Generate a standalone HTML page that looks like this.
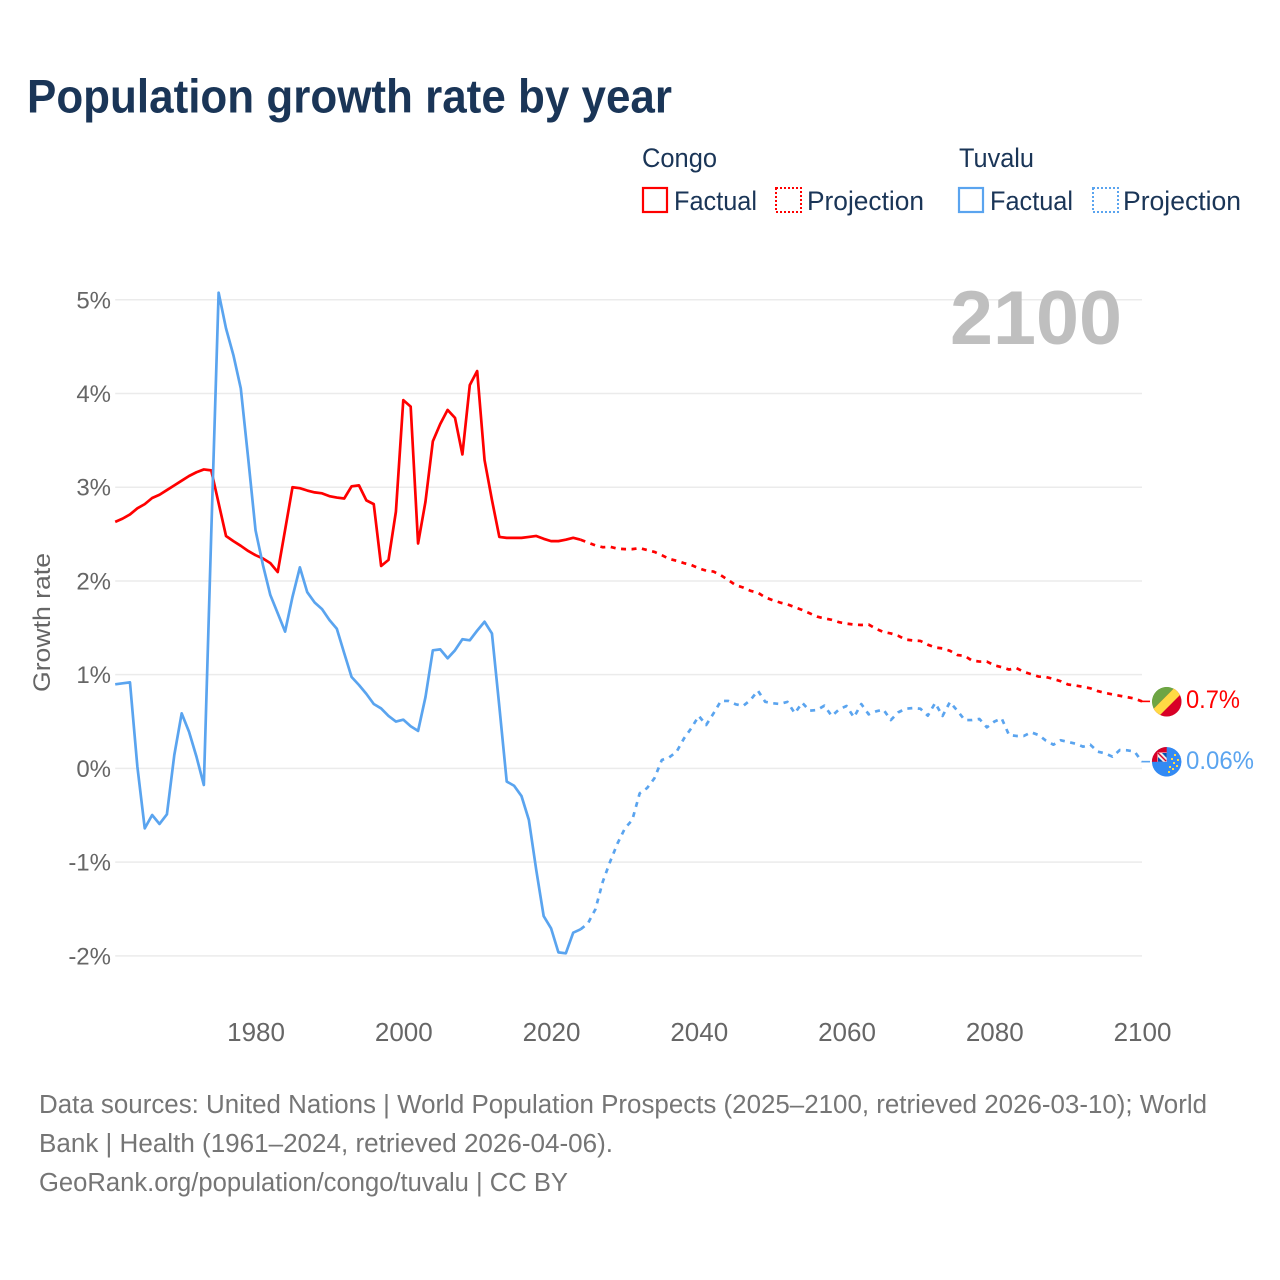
<!DOCTYPE html>
<html lang="en">
<head>
<meta charset="utf-8">
<title>Population growth rate by year</title>
<style>
html,body{margin:0;padding:0;background:#fff;width:1280px;height:1280px;overflow:hidden}
svg{display:block}
text{font-family:"Liberation Sans",sans-serif}
</style>
</head>
<body>
<svg id="chart" xmlns="http://www.w3.org/2000/svg" width="1280" height="1280" viewBox="0 0 1280 1280">
  <defs>
    <clipPath id="flag-clip-congo"><circle cx="1166.7" cy="701.7" r="14.8"/></clipPath>
    <clipPath id="flag-clip-tuvalu"><circle cx="1166.7" cy="761.8" r="14.8"/></clipPath>
  </defs>
  <rect width="1280" height="1280" fill="#fff"/>
  <text x="27" y="112.5" font-size="47" font-weight="700" fill="#1a3557" textLength="645" lengthAdjust="spacingAndGlyphs">Population growth rate by year</text>

  <g font-size="26.5" fill="#1a3557">
    <text x="642" y="167" textLength="75" lengthAdjust="spacingAndGlyphs">Congo</text>
    <text x="959" y="167" textLength="75" lengthAdjust="spacingAndGlyphs">Tuvalu</text>
    <rect x="643" y="188" width="24" height="24" fill="none" stroke="#ff0000" stroke-width="2.2"/>
    <text x="674" y="210" textLength="83" lengthAdjust="spacingAndGlyphs">Factual</text>
    <rect x="776" y="188" width="25" height="24" fill="none" stroke="#ff0000" stroke-width="2" stroke-dasharray="2 2"/>
    <text x="807" y="210" textLength="117" lengthAdjust="spacingAndGlyphs">Projection</text>
    <rect x="959" y="188" width="24" height="24" fill="none" stroke="#5aa4ef" stroke-width="2.2"/>
    <text x="990" y="210" textLength="83" lengthAdjust="spacingAndGlyphs">Factual</text>
    <rect x="1093" y="188" width="25" height="24" fill="none" stroke="#5aa4ef" stroke-width="2" stroke-dasharray="2 2"/>
    <text x="1123" y="210" textLength="118" lengthAdjust="spacingAndGlyphs">Projection</text>
  </g>

  <g id="grid"></g>
  <g id="y-ticks"></g>
  <g id="x-ticks"></g>
  <text transform="translate(50,622.5) rotate(-90)" text-anchor="middle" font-size="24" fill="#666" textLength="139" lengthAdjust="spacingAndGlyphs">Growth rate</text>
  <text x="1122" y="344" text-anchor="end" font-size="76" font-weight="700" fill="#bfbfbf" textLength="172" lengthAdjust="spacingAndGlyphs">2100</text>
  <g id="series"></g>

  <g clip-path="url(#flag-clip-congo)">
    <circle cx="1166.7" cy="701.7" r="14.8" fill="#6da544"/>
    <g transform="rotate(-45 1166.7 701.7)">
      <rect x="1146" y="697.4" width="42" height="30" fill="#d80027"/>
      <rect x="1146" y="697.4" width="42" height="9" fill="#ffda44"/>
    </g>
  </g>
  <g clip-path="url(#flag-clip-tuvalu)">
    <circle cx="1166.7" cy="761.8" r="14.8" fill="#338af3"/>
    <rect x="1151" y="746" width="15.7" height="15.8" fill="#d80027"/>
    <rect x="1157.5" y="752.5" width="9.2" height="9.3" fill="#f0f0f0"/>
    <path d="M1158 753 L1166 761" stroke="#d80027" stroke-width="1.4"/>
    <path d="M1162 753 L1166.7 753 L1166.7 758 Z" fill="#0052b4"/>
    <path d="M1158 757 L1158 761.8 L1163 761.8 Z" fill="#0052b4"/>
    <g fill="#ffda44">
      <rect x="1174" y="754" width="2" height="2"/><rect x="1171" y="758" width="2" height="2"/>
      <rect x="1177" y="759" width="2" height="2"/><rect x="1173" y="762" width="2" height="2"/>
      <rect x="1176" y="765" width="2" height="2"/><rect x="1169" y="766" width="2" height="2"/>
      <rect x="1172" y="768" width="2" height="2"/><rect x="1168" y="771" width="2" height="2"/>
    </g>
  </g>

  <text x="1186" y="708" font-size="25" fill="#ff0000" textLength="54" lengthAdjust="spacingAndGlyphs">0.7%</text>
  <text x="1186" y="769" font-size="25" fill="#5aa4ef" textLength="68" lengthAdjust="spacingAndGlyphs">0.06%</text>

  <g font-size="25.5" fill="#757575">
    <text x="39" y="1113" textLength="1168" lengthAdjust="spacingAndGlyphs">Data sources: United Nations | World Population Prospects (2025–2100, retrieved 2026-03-10); World</text>
    <text x="39" y="1152" textLength="574" lengthAdjust="spacingAndGlyphs">Bank | Health (1961–2024, retrieved 2026-04-06).</text>
    <text x="39" y="1191" textLength="529" lengthAdjust="spacingAndGlyphs">GeoRank.org/population/congo/tuvalu | CC BY</text>
  </g>
</svg>
<script>
const factualYears = [1961,1962,1963,1964,1965,1966,1967,1968,1969,1970,1971,1972,1973,1974,1975,1976,1977,1978,1979,1980,1981,1982,1983,1984,1985,1986,1987,1988,1989,1990,1991,1992,1993,1994,1995,1996,1997,1998,1999,2000,2001,2002,2003,2004,2005,2006,2007,2008,2009,2010,2011,2012,2013,2014,2015,2016,2017,2018,2019,2020,2021,2022,2023,2024];
const projectionYears = [2024,2025,2026,2027,2028,2029,2030,2031,2032,2033,2034,2035,2036,2037,2038,2039,2040,2041,2042,2043,2044,2045,2046,2047,2048,2049,2050,2051,2052,2053,2054,2055,2056,2057,2058,2059,2060,2061,2062,2063,2064,2065,2066,2067,2068,2069,2070,2071,2072,2073,2074,2075,2076,2077,2078,2079,2080,2081,2082,2083,2084,2085,2086,2087,2088,2089,2090,2091,2092,2093,2094,2095,2096,2097,2098,2099,2100];
const congoFactual = [2.63,2.665,2.71,2.775,2.82,2.885,2.92,2.97,3.02,3.07,3.12,3.16,3.19,3.18,2.83,2.48,2.425,2.375,2.32,2.275,2.24,2.19,2.095,2.545,3.0,2.99,2.965,2.945,2.935,2.905,2.89,2.88,3.01,3.02,2.86,2.82,2.16,2.225,2.74,3.93,3.86,2.40,2.845,3.49,3.675,3.825,3.74,3.35,4.09,4.24,3.29,2.865,2.47,2.46,2.46,2.46,2.47,2.48,2.45,2.425,2.425,2.44,2.46,2.44];
const congoProjection = [2.44,2.41,2.38,2.36,2.365,2.345,2.34,2.34,2.35,2.33,2.31,2.275,2.235,2.215,2.19,2.17,2.135,2.11,2.10,2.06,2.01,1.955,1.93,1.895,1.875,1.825,1.795,1.77,1.75,1.72,1.69,1.655,1.62,1.60,1.585,1.56,1.545,1.535,1.53,1.535,1.49,1.455,1.44,1.415,1.375,1.365,1.36,1.32,1.29,1.28,1.255,1.21,1.20,1.15,1.14,1.14,1.10,1.08,1.055,1.07,1.03,1.005,0.98,0.975,0.955,0.93,0.895,0.885,0.87,0.855,0.825,0.805,0.79,0.775,0.76,0.745,0.715];
const tuvaluFactual = [0.897,0.908,0.918,0.02,-0.64,-0.497,-0.593,-0.49,0.143,0.587,0.39,0.125,-0.177,2.5,5.076,4.695,4.41,4.055,3.31,2.54,2.17,1.85,1.655,1.46,1.83,2.145,1.88,1.77,1.70,1.583,1.49,1.23,0.975,0.89,0.795,0.687,0.64,0.56,0.50,0.52,0.45,0.40,0.76,1.26,1.27,1.175,1.26,1.378,1.367,1.47,1.565,1.44,0.66,-0.14,-0.185,-0.295,-0.55,-1.085,-1.575,-1.706,-1.963,-1.973,-1.753,-1.717];
const tuvaluProjection = [-1.717,-1.653,-1.504,-1.21,-0.995,-0.80,-0.64,-0.55,-0.266,-0.21,-0.105,0.09,0.118,0.178,0.32,0.43,0.56,0.463,0.588,0.72,0.72,0.684,0.666,0.73,0.83,0.71,0.695,0.687,0.71,0.588,0.701,0.616,0.623,0.669,0.559,0.63,0.666,0.545,0.687,0.577,0.609,0.627,0.516,0.598,0.637,0.644,0.637,0.563,0.698,0.559,0.708,0.616,0.516,0.516,0.527,0.438,0.499,0.534,0.356,0.346,0.346,0.385,0.356,0.296,0.253,0.30,0.282,0.264,0.232,0.253,0.179,0.161,0.125,0.196,0.193,0.179,0.072];
const xTickValues = [1980,2000,2020,2040,2060,2080,2100];
const yTickValues = [5,4,3,2,1,0,-1,-2];

const NS = 'http://www.w3.org/2000/svg';
const xLeft = 115.2, xRight = 1142, yearMin = 1961, yearMax = 2100;
const yZero = 768.4, pxPerPct = 93.72;
const sx = function (year) { return xLeft + (year - yearMin) * (xRight - xLeft) / (yearMax - yearMin); };
const sy = function (value) { return yZero - value * pxPerPct; };
const gridG = document.getElementById('grid');
const yG = document.getElementById('y-ticks');
const xG = document.getElementById('x-ticks');
const seriesG = document.getElementById('series');

yTickValues.forEach(function (v) {
  const line = document.createElementNS(NS, 'line');
  
  
  line.setAttribute('x1', xLeft);
  line.setAttribute('x2', xRight);
  line.setAttribute('y1', sy(v));
  line.setAttribute('y2', sy(v));
  line.setAttribute('stroke', '#ebebeb');
  line.setAttribute('stroke-width', '1.5');
  gridG.appendChild(line);

  const label = document.createElementNS(NS, 'text');
  
  
  label.setAttribute('x', 111);
  label.setAttribute('y', sy(v) + 8.5);
  label.setAttribute('text-anchor', 'end');
  label.setAttribute('font-size', '24');
  label.setAttribute('fill', '#666');
  label.textContent = v + '%';
  yG.appendChild(label);
});

xTickValues.forEach(function (year) {
  const label = document.createElementNS(NS, 'text');
  
  
  label.setAttribute('x', sx(year) + 0.5);
  label.setAttribute('y', 1041);
  label.setAttribute('text-anchor', 'middle');
  label.setAttribute('font-size', '26');
  label.setAttribute('fill', '#666');
  label.textContent = year;
  xG.appendChild(label);
});

function linePath(years, values) {
  return values.map(function (v, i) {
    return (i ? 'L' : 'M') + sx(years[i]).toFixed(2) + ' ' + sy(v).toFixed(2);
  }).join(' ');
}

function drawSeries(name, years, values, color, dashed) {
  const path = document.createElementNS(NS, 'path');
  
  
  path.setAttribute('d', linePath(years, values));
  path.setAttribute('fill', 'none');
  path.setAttribute('stroke', color);
  path.setAttribute('stroke-width', '2.7');
  path.setAttribute('stroke-linejoin', 'round');
  if (dashed) path.setAttribute('stroke-dasharray', '5 5.5');
  seriesG.appendChild(path);
}

function drawConnector(name, value, color) {
  const line = document.createElementNS(NS, 'line');
  
  
  line.setAttribute('x1', sx(yearMax) - 0.5);
  line.setAttribute('x2', sx(yearMax) + 8);
  line.setAttribute('y1', sy(value));
  line.setAttribute('y2', sy(value));
  line.setAttribute('stroke', color);
  line.setAttribute('stroke-width', '1.6');
  seriesG.appendChild(line);
}

drawSeries('congo-factual-line', factualYears, congoFactual, '#ff0000', false);
drawSeries('congo-projection-line', projectionYears, congoProjection, '#ff0000', true);
drawSeries('tuvalu-factual-line', factualYears, tuvaluFactual, '#5aa4ef', false);
drawSeries('tuvalu-projection-line', projectionYears, tuvaluProjection, '#5aa4ef', true);
drawConnector('congo-end-connector', congoProjection[congoProjection.length - 1], '#ff0000');
drawConnector('tuvalu-end-connector', tuvaluProjection[tuvaluProjection.length - 1], '#5aa4ef');
</script>
</body>
</html>
